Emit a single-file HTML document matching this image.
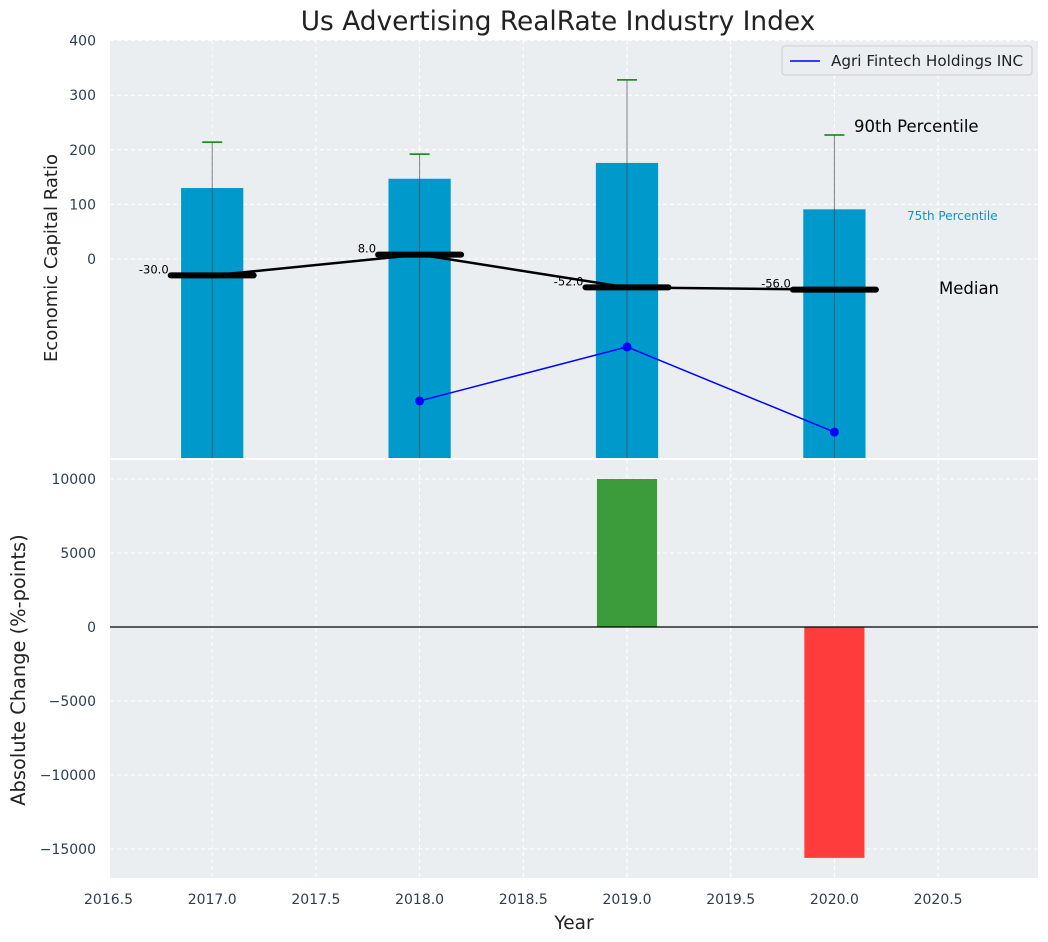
<!DOCTYPE html>
<html><head><meta charset="utf-8"><style>
body{margin:0;background:#fff;}
svg{display:block;font-family:"DejaVu Sans","Liberation Sans",sans-serif;}
</style></head><body>
<svg id="chart" width="1048" height="942"></svg>
<script>
const years=[2017,2018,2019,2020];
const p75=[130,147,176,91];
const p90=[214,192,328,227];
const medians=[-30,8,-52,-56];
const companyYears=[2018,2019,2020];
const companyVals=[-260,-161,-317];
const changeYears=[2019,2020];
const changeVals=[10000,-15600];
const xTicks=[2016.5,2017.0,2017.5,2018.0,2018.5,2019.0,2019.5,2020.0,2020.5];
const topTicks=[400,300,200,100,0];
const botTicks=[10000,5000,0,-5000,-10000,-15000];

const svg=document.getElementById('chart');
const NS='http://www.w3.org/2000/svg';
function el(t,a,p){const e=document.createElementNS(NS,t);for(const k in a)e.setAttribute(k,a[k]);(p||svg).appendChild(e);return e;}
const L=110,R=1038;
const x=v=>108.5+(v-2016.5)*207.4;
const yT=v=>259-v*0.546;
const yB=v=>627-v*0.0148;
const T1=40,B1=458,T2=460,B2=878;
const axisColor='#2e3e50';

let e=el('rect',{x:L,y:T1,width:R-L,height:B1-T1,fill:'#eaeef0'});

e=el('rect',{x:L,y:T2,width:R-L,height:B2-T2,fill:'#eaeef0'});


xTicks.forEach(v=>{
  [[T1,B1],[T2,B2]].forEach(([a,b])=>{el('line',{x1:x(v),x2:x(v),y1:a,y2:b,stroke:'#fff','stroke-dasharray':'4,3','stroke-width':1});});
});
topTicks.forEach(v=>{el('line',{x1:L,x2:R,y1:yT(v),y2:yT(v),stroke:'#fff','stroke-dasharray':'4,3'});});
botTicks.forEach(v=>{el('line',{x1:L,x2:R,y1:yB(v),y2:yB(v),stroke:'#fff','stroke-dasharray':'4,3'});});

const defs=el('defs',{});
const cp=el('clipPath',{id:'ct'},defs);el('rect',{x:L,y:T1,width:R-L,height:B1-T1},cp);
const gTop=el('g',{'clip-path':'url(#ct)'});

years.forEach((yr,i)=>{
  const b=el('rect',{x:x(yr-0.15),y:yT(p75[i]),width:x(yr+0.15)-x(yr-0.15),height:B1-yT(p75[i]),fill:'#0099cc'},gTop);
  
  
});
years.forEach((yr,i)=>{
  el('line',{x1:x(yr),x2:x(yr),y1:yT(p90[i]),y2:B1,stroke:'#444','stroke-opacity':0.65,'stroke-width':1},gTop);
  const c=el('line',{x1:x(yr)-10,x2:x(yr)+10,y1:yT(p90[i]),y2:yT(p90[i]),stroke:'green','stroke-width':1.5},gTop);
  
  
});
let pts=years.map((yr,i)=>x(yr)+','+yT(medians[i])).join(' ');
e=el('polyline',{points:pts,fill:'none',stroke:'#000','stroke-width':2.5},gTop);

years.forEach((yr,i)=>{
  const m=el('line',{x1:x(yr-0.2),x2:x(yr+0.2),y1:yT(medians[i]),y2:yT(medians[i]),stroke:'#000','stroke-width':6,'stroke-linecap':'round'},gTop);
  
  
  const t=el('text',{x:x(yr-0.21),y:yT(medians[i])-2,'font-size':11.5,'text-anchor':'end',fill:'#000'},gTop);
  t.textContent=medians[i].toFixed(1);
  
  
});
pts=companyYears.map((yr,i)=>x(yr)+','+yT(companyVals[i])).join(' ');
e=el('polyline',{points:pts,fill:'none',stroke:'blue','stroke-width':1.5},gTop);

companyYears.forEach((yr,i)=>{
  const c=el('circle',{cx:x(yr),cy:yT(companyVals[i]),r:4.5,fill:'blue'},gTop);
  
  
});
e=el('text',{x:854,y:132,'font-size':16.5,fill:'#000'});e.textContent='90th Percentile';

e=el('text',{x:907,y:220,'font-size':12,fill:'#0099cc'});e.textContent='75th Percentile';

e=el('text',{x:939,y:294,'font-size':16.5,fill:'#000'});e.textContent='Median';


const lg=el('g',{});
el('rect',{x:782,y:46,width:250,height:29,rx:3,fill:'#eaeef0',stroke:'#ccc'},lg);
el('line',{x1:790,x2:820,y1:61,y2:61,stroke:'blue','stroke-width':1.5},lg);
e=el('text',{x:831,y:66,'font-size':15.2,fill:'#222'},lg);e.textContent='Agri Fintech Holdings INC';

changeVals.forEach((v,i)=>{
  const yr=changeYears[i];
  const y0=yB(Math.max(v,0)),y1=yB(Math.min(v,0));
  const b=el('rect',{x:x(yr-0.145),y:y0,width:x(yr+0.145)-x(yr-0.145),height:y1-y0,fill:v>=0?'#3c9c3c':'#ff3c3c'});
  
  
});
e=el('line',{x1:L,x2:R,y1:yB(0),y2:yB(0),stroke:'#000','stroke-width':1.2});


topTicks.forEach(v=>{const t=el('text',{x:96,y:yT(v)+5,'font-size':14,'text-anchor':'end',fill:axisColor});t.textContent=v;});
botTicks.forEach(v=>{const t=el('text',{x:96,y:yB(v)+5,'font-size':14,'text-anchor':'end',fill:axisColor});t.textContent=(v<0?'\u2212'+(-v):v);});
xTicks.forEach(v=>{const t=el('text',{x:x(v),y:904,'font-size':14,'text-anchor':'middle',fill:axisColor});t.textContent=v.toFixed(1);});

e=el('text',{x:558,y:30,'font-size':26.4,'text-anchor':'middle',fill:'#222'});e.textContent='Us Advertising RealRate Industry Index';

e=el('text',{x:574,y:929,'font-size':18.5,'text-anchor':'middle',fill:'#222'});e.textContent='Year';

e=el('text',{x:0,y:0,'font-size':18,'text-anchor':'middle',fill:'#222',transform:'translate(57,258) rotate(-90)'});e.textContent='Economic Capital Ratio';

e=el('text',{x:0,y:0,'font-size':19.4,'text-anchor':'middle',fill:'#222',transform:'translate(25,670) rotate(-90)'});e.textContent='Absolute Change (%-points)';

</script>
</body></html>
